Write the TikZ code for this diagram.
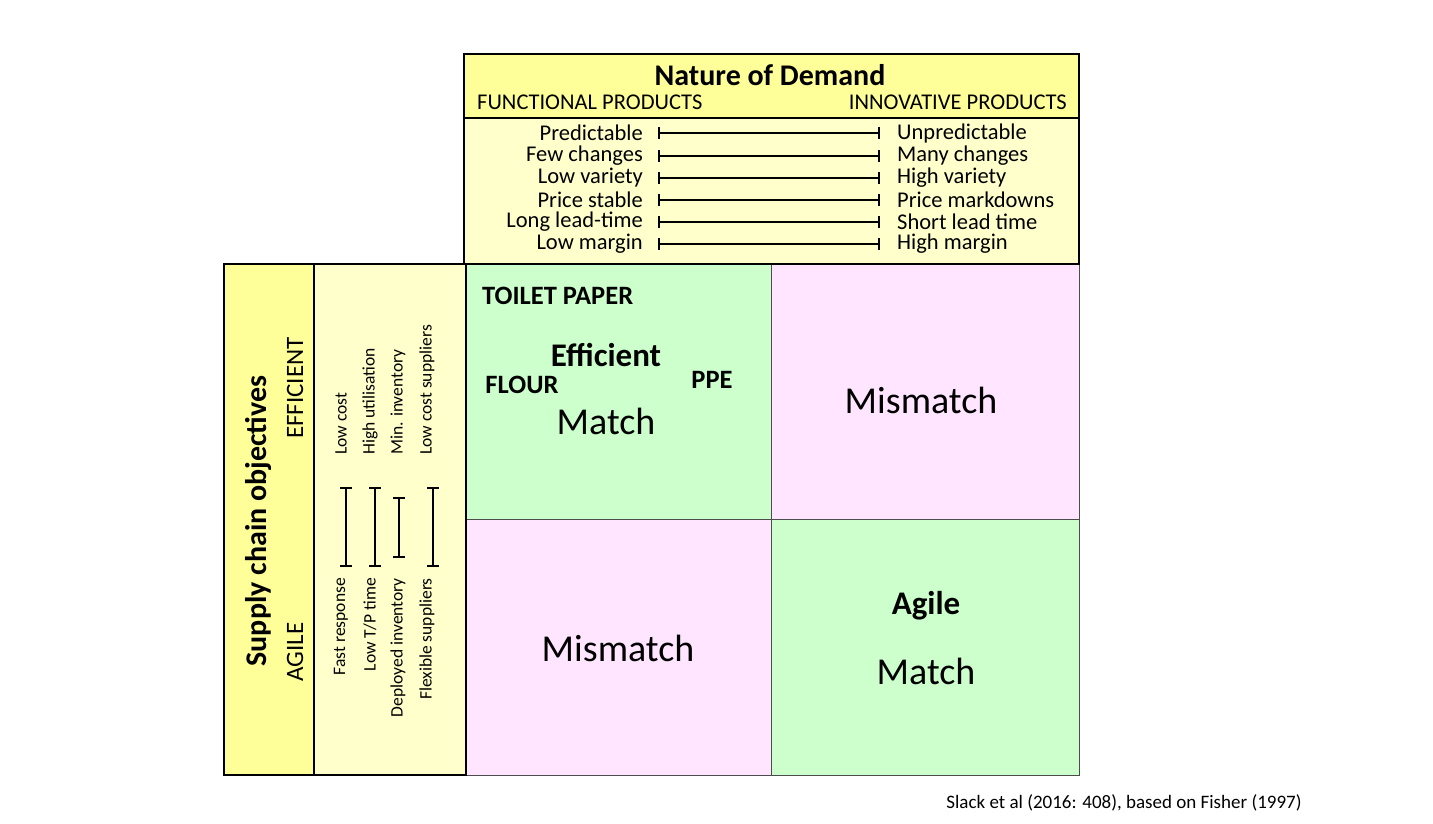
\documentclass[tikz,border=0pt]{standalone}
\usepackage{fontspec}
\setmainfont{Carlito}
\definecolor{hdr}{HTML}{FFFF99}
\definecolor{pale}{HTML}{FFFFCC}
\definecolor{grn}{HTML}{CCFFCC}
\definecolor{pnk}{HTML}{FFE5FF}
\tikzset{
 fs/.style={font=\fontsize{#1}{#1}\selectfont},
 bfs/.style={font=\bfseries\fontsize{#1}{#1}\selectfont},
 bar/.style={line width=2pt,|-|},
 cell/.style={draw=black!70,line width=0.8pt},
 box/.style={draw=black,line width=2.2pt},
}
\begin{document}
\begin{tikzpicture}[x=1pt,y=-1pt,inner sep=0pt]
\useasboundingbox[fill=white] (0,0) rectangle (1433,823);
% grid cells
\draw[cell,fill=grn] (466,264) rectangle (771,519);
\draw[cell,fill=pnk] (771,264) rectangle (1079,519);
\draw[cell,fill=pnk] (466,519) rectangle (771,775);
\draw[cell,fill=grn] (771,519) rectangle (1079,775);
% top box
\draw[box,fill=pale] (464,118) rectangle (1079,264);
\draw[box,fill=hdr] (464,54) rectangle (1079,118);
% left boxes
\draw[box,fill=hdr] (224,264) rectangle (314,775);
\draw[box,fill=pale] (314,264) rectangle (466,775);
% header text
\node[bfs=30] (t) at (770,75) {Nature of Demand};
\node[fs=22.5,anchor=west] (fp) at (477,102) {FUNCTIONAL PRODUCTS};
\node[fs=22.5,anchor=east] (ip) at (1067,102) {INNOVATIVE PRODUCTS};
% rows
\foreach \y/\a/\b [count=\i] in {133/Predictable/Unpredictable,156/Few changes/Many changes,178/Low variety/High variety,200/Price stable/Price markdowns,222/Long lead-time/Short lead time,244/Low margin/High margin}{
 \node[fs=22.5,anchor=east] (l\i) at (643,\y) {\a};
 \node[fs=22.5,anchor=west] (r\i) at (897,\y) {\b};
 \coordinate (la\i) at (658,\y); \coordinate (lb\i) at (880,\y);
 \draw[bar] (la\i) -- (lb\i);
}
% left column
\node[rotate=90,bfs=30] (sco) at (258,521) {Supply chain objectives};
\node[rotate=90,fs=25] (eff) at (295,388) {EFFICIENT};
\node[rotate=90,fs=25] (agi) at (295,652) {AGILE};
\foreach \x/\a/\b [count=\i] in {341/Low cost/Fast response,370/High utilisation/Low T{/}P time,398/Min. inventory/Deployed inventory,427/Low cost suppliers/Flexible suppliers}{
 \node[rotate=90,fs=17.5,anchor=west] (e\i) at (\x,455) {\a};
 \node[rotate=90,fs=17.5,anchor=east] (g\i) at (\x,578) {\b};
}
\coordinate (v1a) at (346,487); \coordinate (v1b) at (346,567);
\coordinate (v2a) at (375,487); \coordinate (v2b) at (375,567);
\coordinate (v3a) at (399,497); \coordinate (v3b) at (399,558);
\coordinate (v4a) at (433,487); \coordinate (v4b) at (433,567);
\foreach \i in {1,2,3,4}{\draw[bar] (v\i a) -- (v\i b);}
% cell texts
\node[bfs=26.5,anchor=west] (tp) at (482,296) {TOILET PAPER};
\node[bfs=33] (ef) at (606,355) {Efficient};
\node[bfs=26.5] (fl) at (522,385) {FLOUR};
\node[bfs=26.5] (ppe) at (712,380) {PPE};
\node[fs=38] (m1) at (606,421) {Match};
\node[fs=38] (mm1) at (921,400) {Mismatch};
\node[fs=38] (mm2) at (618,648) {Mismatch};
\node[bfs=33] (ag) at (926,606) {Agile};
\node[fs=38] (m2) at (926,671) {Match};
\node[fs=19] (cit) at (1124,803) {Slack et al (2016: 408), based on Fisher (1997)};
\end{tikzpicture}
\end{document}
